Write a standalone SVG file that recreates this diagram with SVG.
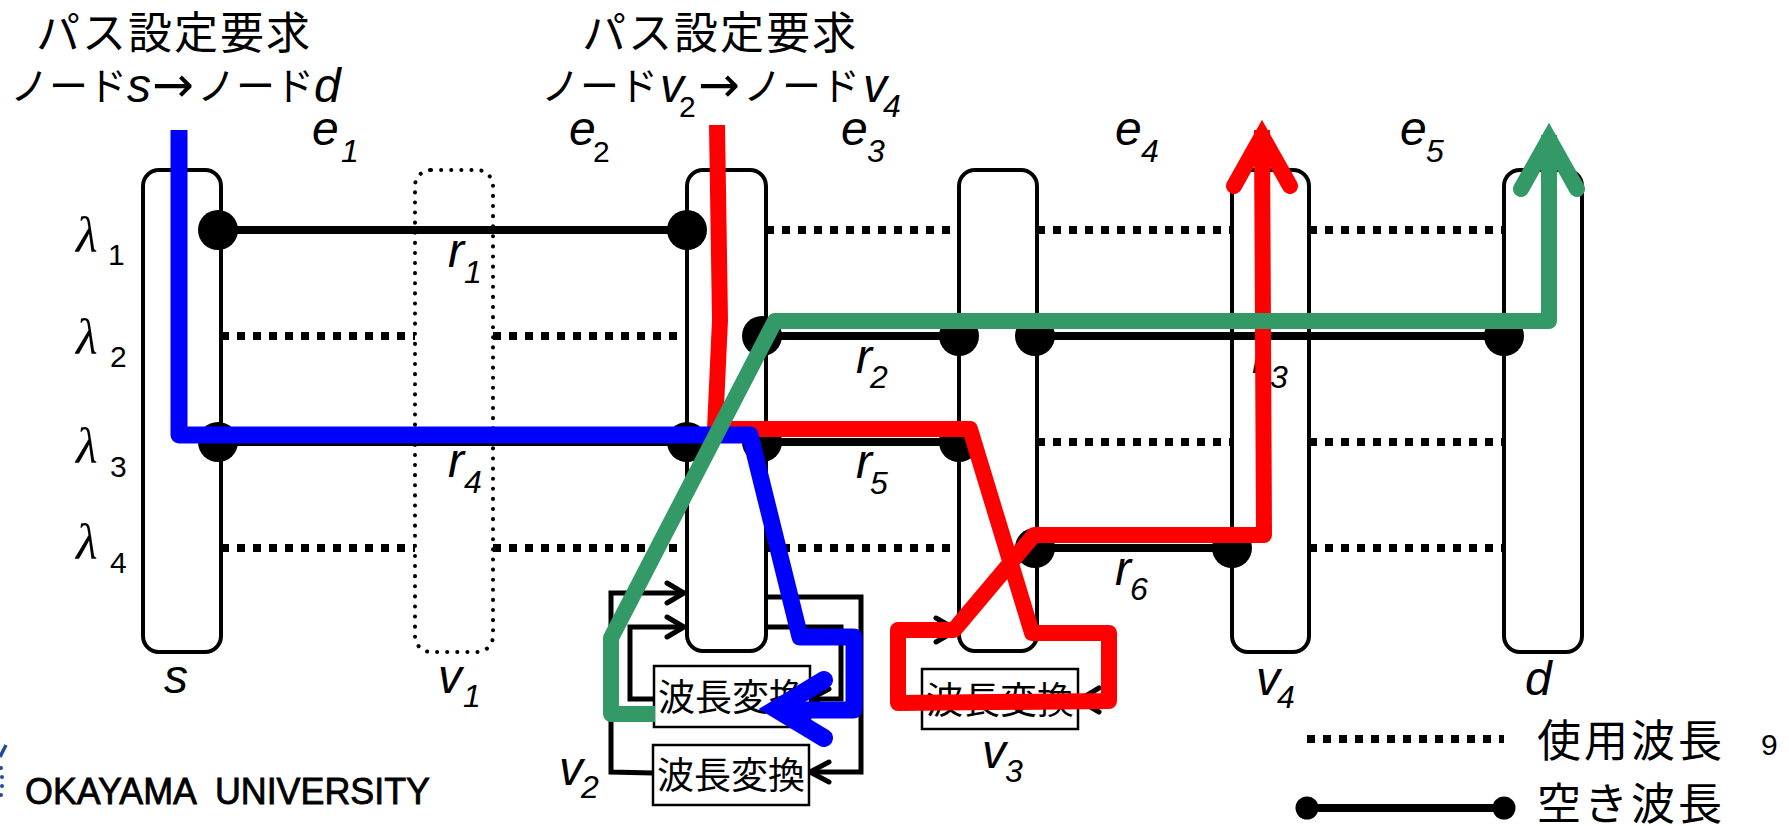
<svg xmlns="http://www.w3.org/2000/svg" width="1789" height="826" viewBox="0 0 1789 826">
<style>
.n{fill:#fff;stroke:#000;stroke-width:4}
.d{fill:none;stroke:#000;stroke-width:4;stroke-dasharray:0.1 10;stroke-linecap:round}
.fr{stroke:#000;stroke-width:8;fill:none}
.us{stroke:#000;stroke-width:8;fill:none;stroke-dasharray:8 8}
.w{fill:none;stroke:#000;stroke-width:5}
.wa{fill:none;stroke:#000;stroke-width:5;stroke-linecap:round}
.pb{fill:none;stroke-width:16;stroke-linejoin:round}
.ah{fill:none;stroke-width:16;stroke-linejoin:miter;stroke-miterlimit:10;stroke-linecap:round}
.b{fill:#fff;stroke:#000;stroke-width:2.5}
text{fill:#000}
.j{font-family:"Noto Sans CJK JP",sans-serif;font-size:44px;letter-spacing:2px}
.k{font-family:"Noto Sans CJK JP",sans-serif;font-size:39px}
.c{font-family:"Noto Sans CJK JP",sans-serif;font-size:37px}
.g{font-family:"Noto Sans CJK JP",sans-serif;font-size:44px;letter-spacing:3px}
.a{font-family:"DejaVu Sans",sans-serif;font-size:50px}
.i{font-family:"Liberation Sans",Arial,sans-serif;font-style:italic;font-size:48px}
.s{font-family:"Liberation Sans",Arial,sans-serif;font-style:italic;font-size:32px}
.u{font-family:"Liberation Sans",Arial,sans-serif;font-size:30px}
.l{font-family:"Liberation Serif",serif;font-style:italic;font-size:50px}
</style>
<g id="node-s"><rect class="n" x="143" y="170" width="78" height="482" rx="16"/></g>
<g id="node-v1"><rect class="d" x="415" y="170" width="78" height="482" rx="16"/></g>
<g id="node-v2"><rect class="n" x="687" y="170" width="79" height="481" rx="16"/></g>
<g id="node-v3"><rect class="n" x="959" y="170" width="78" height="481" rx="16"/></g>
<g id="node-v4"><rect class="n" x="1232" y="170" width="77" height="482" rx="16"/></g>
<g id="node-d"><rect class="n" x="1504" y="170" width="78" height="482" rx="16"/></g>
<g id="wavelengths">
<path class="fr" d="M218 230H687M762 336H959M1035 336H1504M218 442H687M762 442H959M1035 548H1232"/>
<path class="us" d="M766 230H959M1037 230H1232M1309 230H1504M221 336H415M493 336H687M1037 442H1232M1309 442H1504M221 548H415M493 548H687M766 548H959M1309 548H1504"/>
<g fill="#000">
<circle cx="218" cy="230" r="20"/><circle cx="687" cy="230" r="20"/>
<circle cx="762" cy="336" r="20"/><circle cx="959" cy="336" r="20"/><circle cx="1035" cy="336" r="20"/><circle cx="1504" cy="336" r="20"/>
<circle cx="218" cy="442" r="20"/><circle cx="687" cy="442" r="20"/><circle cx="762" cy="442" r="20"/><circle cx="959" cy="442" r="20"/>
<circle cx="1035" cy="548" r="20"/><circle cx="1232" cy="548" r="20"/>
</g>
</g>
<g id="converter-wiring">
<path class="w" d="M653 773L611 772V593H684M653 699H630V627H684M766 597H861V772H810M766 627H841V699H810"/>
<path class="wa" d="M667 583L684 593L667 603M667 617L684 627L667 637M829 762L810 772L829 782M829 689L810 699L829 709"/>
<path class="w" d="M922 700H898V630H959M1037 630H1109V700H1079"/>
<path class="wa" d="M936 618L957 630L936 642M1099 688L1079 700L1099 712"/>
</g>
<g id="conv-v2-a"><rect class="b" x="654" y="666" width="156" height="61"/><text class="c" x="732" y="711" text-anchor="middle">波長変換</text></g>
<g id="conv-v2-b"><rect class="b" x="653" y="745" width="156" height="60"/><text class="c" x="731" y="789" text-anchor="middle">波長変換</text></g>
<g id="conv-v3"><rect class="b" x="922" y="669" width="156" height="60"/><text class="c" x="1000" y="714" text-anchor="middle">波長変換</text></g>
<g id="labels">
<text class="j" x="174" y="49" text-anchor="middle">パス設定要求</text>
<text class="j" x="720" y="49" text-anchor="middle">パス設定要求</text>
<text class="k" x="10" y="100">ノード</text><text class="i" x="127" y="102">s</text><text class="a" x="152" y="102">→</text><text class="k" x="197" y="100">ノード</text><text class="i" x="314" y="102">d</text>
<text class="k" x="541" y="100">ノード</text><text class="i" x="660" y="102">v</text><text class="u" x="679" y="117">2</text><text class="a" x="698" y="102">→</text><text class="k" x="743" y="100">ノード</text><text class="i" x="863" y="102">v</text><text class="s" x="883" y="117">4</text>
<text class="i" x="312" y="145">e</text><text class="s" x="341" y="162">1</text>
<text class="i" x="569" y="145">e</text><text class="u" x="593" y="162">2</text>
<text class="i" x="841" y="145">e</text><text class="s" x="867" y="162">3</text>
<text class="i" x="1115" y="145">e</text><text class="s" x="1141" y="162">4</text>
<text class="i" x="1400" y="145">e</text><text class="s" x="1426" y="162">5</text>
<text class="l" x="76" y="252">λ</text><text class="u" x="108" y="265">1</text>
<text class="l" x="76" y="354">λ</text><text class="u" x="110" y="367">2</text>
<text class="l" x="76" y="463">λ</text><text class="u" x="110" y="477">3</text>
<text class="l" x="76" y="559">λ</text><text class="u" x="110" y="573">4</text>
<text class="i" x="448" y="267">r</text><text class="s" x="464" y="283">1</text>
<text class="i" x="856" y="373">r</text><text class="s" x="870" y="388">2</text>
<text class="i" x="1252" y="373">r</text><text class="s" x="1270" y="388">3</text>
<text class="i" x="448" y="477">r</text><text class="s" x="464" y="493">4</text>
<text class="i" x="856" y="478">r</text><text class="s" x="870" y="494">5</text>
<text class="i" x="1115" y="585">r</text><text class="s" x="1130" y="600">6</text>
<text class="i" x="164" y="693">s</text>
<text class="i" x="438" y="693">v</text><text class="s" x="463" y="707">1</text>
<text class="i" x="559" y="785">v</text><text class="s" x="581" y="798">2</text>
<text class="i" x="982" y="768">v</text><text class="s" x="1005" y="782">3</text>
<text class="i" x="1256" y="695">v</text><text class="s" x="1277" y="708">4</text>
<text class="i" x="1525" y="695">d</text>
</g>
<g id="paths">
<g stroke="#f00">
<path class="pb" d="M717 125L720 320L715 429H970L1032 633H1109V701L898 703V630H954L1034 535H1264L1262 130"/>
<path class="ah" d="M1234 186L1262 136L1290 186"/>
</g>
<g stroke="#00f">
<path class="pb" style="stroke-width:17" d="M179 130V435H750L800 637H854V710H776"/>
<path class="ah" style="stroke-width:18" d="M824 680L776 709L824 738"/>
</g>
<g stroke="#396">
<path class="pb" d="M655 714H611V638L775 321H1549V135"/>
<path class="ah" d="M1521 189L1549 139L1577 189"/>
</g>
</g>
<g id="legend">
<path class="us" d="M1307 739H1504"/>
<text class="g" x="1537" y="757">使用波長</text>
<path class="fr" d="M1307 808H1504"/>
<circle cx="1307" cy="808" r="11.5" fill="#000"/><circle cx="1504" cy="808" r="11.5" fill="#000"/>
<text class="g" x="1537" y="820">空き波長</text>
</g>
<text x="1761" y="755" font-family="Liberation Sans, Arial, sans-serif" font-size="30">9</text>
<g id="logo">
<path d="M6 745L0 757" stroke="#1f4e96" stroke-width="3.5" fill="none"/>
<g fill="#1f4e96"><circle cx="1" cy="768" r="2"/><circle cx="2" cy="777" r="2"/><circle cx="2" cy="786" r="2"/><circle cx="1" cy="795" r="2"/></g>
</g>
<text x="25" y="804" font-family="Liberation Sans, Arial, sans-serif" font-size="36" stroke="#000" stroke-width="0.8" textLength="405" lengthAdjust="spacingAndGlyphs" xml:space="preserve">OKAYAMA  UNIVERSITY</text>
</svg>
